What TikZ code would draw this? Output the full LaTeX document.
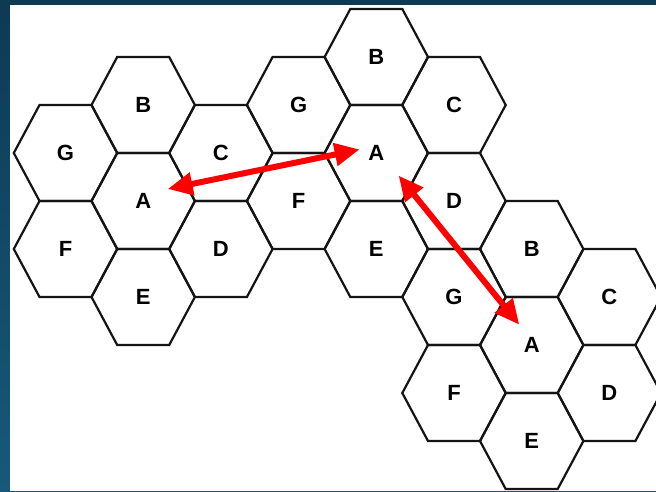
\documentclass[tikz,border=0pt]{standalone}
\usepackage{fontspec}
\setmainfont{Liberation Sans}
\usepackage{xcolor}
\usepackage{tikz}
\usetikzlibrary{arrows.meta}
\definecolor{FrameTop}{HTML}{0E3A52}
\definecolor{FrameBottom}{HTML}{17597A}
\definecolor{ReuseRed}{HTML}{FF0000}
\definecolor{CellLine}{HTML}{141414}

\newcommand{\hexcell}[4]{%
  \draw[cell] (#2,#3) ++(-51.7,0) -- ++(25.7,-48) -- ++(52,0) -- ++(25.7,48)
    -- ++(-25.7,48) -- ++(-52,0) -- cycle;
  \node[cellname] (#1) at (#2,#3) {#4};
}

\begin{document}
\begin{tikzpicture}[
  x=1pt, y=-1pt,
  cell/.style={draw=CellLine, line width=2.2pt, line join=miter},
  cellname/.style={font=\fontsize{22}{26}\selectfont\bfseries, inner sep=0pt, text=black},
  reuse/.style={{Triangle[length=25pt,width=22pt]}-{Triangle[length=25pt,width=22pt]}, line width=6pt, draw=ReuseRed}
]
\useasboundingbox (0,0) rectangle (656,491);
\fill[top color=FrameTop, bottom color=FrameBottom] (0,0) rectangle (656,491);
\fill[white] (10,5) rectangle (656,491);

\hexcell{lG}{65.5}{153}{G}
\hexcell{lF}{65.5}{249}{F}
\hexcell{lB}{143.2}{105}{B}
\hexcell{lA}{143.2}{201}{A}
\hexcell{lE}{143.2}{297}{E}
\hexcell{lC}{220.9}{153}{C}
\hexcell{lD}{220.9}{249}{D}

\hexcell{mG}{298.6}{105}{G}
\hexcell{mF}{298.6}{201}{F}
\hexcell{mB}{376.3}{57}{B}
\hexcell{mA}{376.3}{153}{A}
\hexcell{mE}{376.3}{249}{E}
\hexcell{mC}{454.0}{105}{C}
\hexcell{mD}{454.0}{201}{D}

\hexcell{rG}{454.0}{297}{G}
\hexcell{rF}{454.0}{393}{F}
\hexcell{rB}{531.7}{249}{B}
\hexcell{rA}{531.7}{345}{A}
\hexcell{rE}{531.7}{441}{E}
\hexcell{rC}{609.4}{297}{C}
\hexcell{rD}{609.4}{393}{D}

\draw[reuse, shorten <=17pt, shorten >=25pt] ([yshift=7pt]mA.center) -- ([yshift=7pt]lA.center);
\draw[reuse, shorten <=29pt, shorten >=26pt] ([xshift=4pt]mA.center) -- ([xshift=4pt]rA.center);
\end{tikzpicture}
\end{document}
